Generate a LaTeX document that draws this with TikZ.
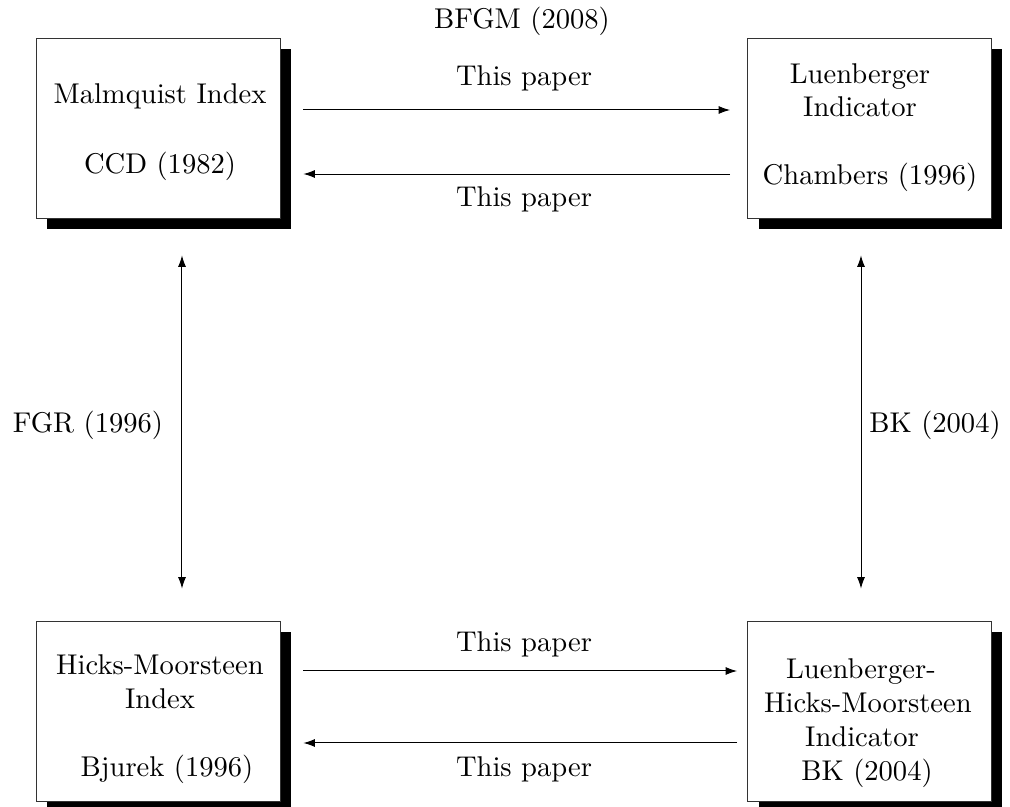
\documentclass[tikz,border=0pt]{standalone}
\usetikzlibrary{arrows.meta,shadows}
\begin{document}
\begin{tikzpicture}[x=0.35pt,y=-0.35pt,
  box/.style={draw=black!80,line width=0.3pt,fill=white,rectangle,inner sep=0pt,
    minimum width=85.4pt,minimum height=63pt,
    drop shadow={shadow xshift=3.85pt,shadow yshift=-3.85pt,fill=black,opacity=1}},
  txt/.style={anchor=base,inner sep=0pt,font=\normalsize},
  arr/.style={line width=0.35pt,-{Latex[length=4pt,width=2.8pt]}},
  darr/.style={line width=0.35pt,{Latex[length=4pt,width=2.8pt]}-{Latex[length=4pt,width=2.8pt]}}]
\useasboundingbox (0,0) rectangle (1010,807);
% boxes
\node[box] (tl) at (158,128) {};
\node[box] (tr) at (869.5,128) {};
\node[box] (bl) at (158,711) {};
\node[box] (br) at (869.5,711) {};
% box texts
\node[txt] (tl1) at (160,104) {Malmquist Index};
\node[txt] (tl2) at (160,174) {CCD (1982)};
\node[txt] (tr1) at (860,84) {Luenberger};
\node[txt] (tr2) at (860,117) {Indicator};
\node[txt] (tr3) at (870,185) {Chambers (1996)};
\node[txt] (bl1) at (160,674) {Hicks-Moorsteen};
\node[txt] (bl2) at (160,708) {Index};
\node[txt] (bl3) at (167,777) {Bjurek (1996)};
\node[txt] (br1) at (861,679) {Luenberger-};
\node[txt] (br2) at (868,713) {Hicks-Moorsteen};
\node[txt] (br3) at (862,747) {Indicator};
\node[txt] (br4) at (867,781) {BK (2004)};
% connector labels
\node[txt] (bfgm) at (522,28) {BFGM (2008)};
\node[txt] (tp1) at (524,86) {This paper};
\node[txt] (tp2) at (524,206) {This paper};
\node[txt] (tp3) at (524,651) {This paper};
\node[txt] (tp4) at (524,776) {This paper};
\node[txt] (fgr) at (88,432) {FGR (1996)};
\node[txt] (bk) at (935,432) {BK (2004)};
% connectors
\draw[arr] ([shift={(23,-18)}]tl.east) -- ([shift={(-17,-18)}]tr.west);
\draw[arr] ([shift={(-17,46)}]tr.west) -- ([shift={(23,46)}]tl.east);
\draw[arr] ([shift={(23,-40)}]bl.east) -- ([shift={(-10,-40)}]br.west);
\draw[arr] ([shift={(-10,32)}]br.west) -- ([shift={(23,32)}]bl.east);
\draw[darr] ([shift={(24,37)}]tl.south) -- ([shift={(24,-32)}]bl.north);
\draw[darr] ([shift={(-8.5,37)}]tr.south) -- ([shift={(-8.5,-32)}]br.north);
\end{tikzpicture}
\end{document}
